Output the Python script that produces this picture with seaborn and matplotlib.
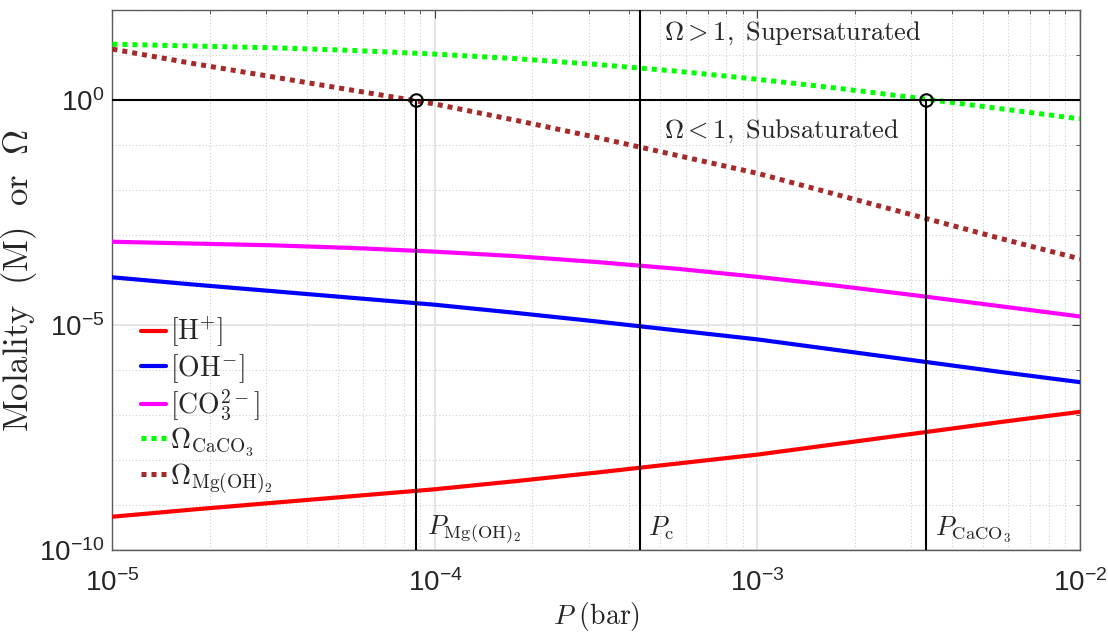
import numpy as np
import pandas as pd
import matplotlib
matplotlib.use("Agg")
import matplotlib.pyplot as plt
import matplotlib.ticker as mticker
import matplotlib.transforms as mtransforms
import seaborn as sns

# Partial pressure of CO2 (bar), quarter-decade steps
pressure = [1.0e-5, 1.778e-5, 3.162e-5, 5.623e-5, 1.0e-4, 1.778e-4, 3.162e-4,
            5.623e-4, 1.0e-3, 1.778e-3, 3.162e-3, 5.623e-3, 1.0e-2]

# log10 of molalities and saturation states
log_h = [-9.26, -9.10, -8.95, -8.80, -8.65, -8.47, -8.28, -8.08, -7.88, -7.64, -7.40, -7.16, -6.93]
log_oh = [-3.94, -4.10, -4.25, -4.40, -4.55, -4.73, -4.92, -5.12, -5.32, -5.56, -5.80, -6.04, -6.27]
log_co3 = [-3.15, -3.19, -3.23, -3.29, -3.37, -3.47, -3.60, -3.75, -3.93, -4.13, -4.35, -4.58, -4.81]
log_omega_caco3 = [1.24, 1.20, 1.16, 1.10, 1.02, 0.92, 0.79, 0.64, 0.46, 0.26, 0.04, -0.19, -0.42]
log_omega_mgoh2 = [1.13, 0.81, 0.51, 0.21, -0.09, -0.45, -0.83, -1.23, -1.63, -2.11, -2.59, -3.07, -3.53]

# Threshold pressures
p_mgoh2 = 8.73e-5
p_c = 4.31e-4
p_caco3 = 3.33e-3

series_labels = [r"$[\mathrm{H}^{+}]$", r"$[\mathrm{OH}^{-}]$", r"$[\mathrm{CO}_3^{2-}]$",
                 r"$\Omega_{\mathrm{CaCO}_3}$", r"$\Omega_{\mathrm{Mg(OH)}_2}$"]

sns.set_style("white")
plt.rcParams.update({
    "mathtext.fontset": "custom",
    "mathtext.rm": "Liberation Sans",
    "mathtext.it": "Liberation Sans:italic",
    "mathtext.bf": "Liberation Sans:bold",
    "mathtext.sf": "Liberation Sans",
    "axes.unicode_minus": False,
})
plt.rcParams["font.family"] = ["Liberation Sans", "DejaVu Sans"]

df = pd.DataFrame({
    "P": pressure,
    "H": np.power(10.0, log_h),
    "OH": np.power(10.0, log_oh),
    "CO3": np.power(10.0, log_co3),
    "OmegaCaCO3": np.power(10.0, log_omega_caco3),
    "OmegaMgOH2": np.power(10.0, log_omega_mgoh2),
})

fig = plt.figure(figsize=(11.08, 6.36), dpi=100)
ax = fig.add_axes([0.1015, 0.1352, 0.8732, 0.8491])
ax.set_xscale("log")
ax.set_yscale("log")

styles = [
    ("H", "#ff0000", "-"),
    ("OH", "#0000ff", "-"),
    ("CO3", "#ff00ff", "-"),
    ("OmegaCaCO3", "#00ff00", (0, (1, 1))),
    ("OmegaMgOH2", "#a52a2a", (0, (1, 1))),
]
handles = []
for (col, color, ls), lab in zip(styles, series_labels):
    lw = 3.0 if ls == "-" else 3.6
    sns.lineplot(data=df, x="P", y=col, ax=ax, color=color, linewidth=lw,
                 linestyle=ls, label=lab, legend=False, zorder=3)
    handles.append(ax.lines[-1])

# Reference lines
ax.axhline(1.0, color="black", lw=1.5, zorder=4)
ax.plot([p_c, p_c], [1e-10, 1e2], color="black", lw=1.5, zorder=4)
ax.plot([p_mgoh2, p_mgoh2], [1e-10, 1.0], color="black", lw=1.5, zorder=4)
ax.plot([p_caco3, p_caco3], [1e-10, 1.0], color="black", lw=1.5, zorder=4)
ax.plot([p_mgoh2, p_caco3], [1.0, 1.0], linestyle="none", marker="o", ms=9,
        mfc="none", mec="black", mew=1.5, zorder=5)

ax.set_xlim(1e-5, 1e-2)
ax.set_ylim(1e-10, 1e2)

# Ticks
ax.xaxis.set_major_locator(mticker.FixedLocator([1e-5, 1e-4, 1e-3, 1e-2]))
ax.xaxis.set_minor_locator(mticker.LogLocator(base=10, subs=np.arange(2, 10), numticks=20))
ax.xaxis.set_minor_formatter(mticker.NullFormatter())
ax.yaxis.set_major_locator(mticker.FixedLocator([1e-10, 1e-5, 1e0]))
ax.yaxis.set_minor_locator(mticker.FixedLocator([10.0 ** k for k in range(-10, 3) if k not in (-10, -5, 0)]))
ax.yaxis.set_minor_formatter(mticker.NullFormatter())
ax.xaxis.set_major_formatter(mticker.LogFormatterSciNotation())
ax.yaxis.set_major_formatter(mticker.LogFormatterSciNotation())

ax.tick_params(which="both", direction="in", top=True, right=True, colors="#404040",
               labelcolor="#262626", labelsize=20)
ax.tick_params(which="major", length=6, width=0.8)
ax.tick_params(which="minor", length=3, width=0.6)
ax.tick_params(axis="x", which="major", pad=14)
ax.tick_params(axis="y", which="major", pad=6)

ax.grid(which="major", color="#e3e3e3", lw=1.3, ls="-", zorder=0)
ax.grid(which="minor", color="#cfcfcf", lw=0.8, ls=(0, (1, 2)), zorder=0)
ax.set_axisbelow(True)
for sp in ax.spines.values():
    sp.set_color("#5a5a5a")
    sp.set_linewidth(1.0)

ax.set_xlabel(r"$P\ \mathrm{(bar)}$", fontsize=20, math_fontfamily="cm", labelpad=2)
ax.set_ylabel(r"$\mathrm{Molality\ \ (M)\ \ or\ \ }\Omega$", fontsize=25, math_fontfamily="cm")
ax.yaxis.set_label_coords(-0.076, 0.5)

# Region annotations
def xshift(px):
    return mtransforms.offset_copy(ax.transData, fig=fig, x=px, y=0, units="dots")

ax.text(p_c, 21.5, r"$\Omega > 1,\ \mathrm{Supersaturated}$", transform=xshift(24),
        fontsize=19, math_fontfamily="cm", va="baseline", ha="left")
ax.text(p_c, 0.148, r"$\Omega < 1,\ \mathrm{Subsaturated}$", transform=xshift(24),
        fontsize=19, math_fontfamily="cm", va="baseline", ha="left")

y_lab = 10 ** -9.667
ax.text(p_mgoh2, y_lab, r"$P_{\mathrm{Mg(OH)}_2}$", transform=xshift(11), fontsize=19,
        math_fontfamily="cm", va="baseline", ha="left")
ax.text(p_c, y_lab, r"$P_{\mathrm{c}}$", transform=xshift(8), fontsize=19,
        math_fontfamily="cm", va="baseline", ha="left")
ax.text(p_caco3, y_lab, r"$P_{\mathrm{CaCO}_3}$", transform=xshift(9), fontsize=19,
        math_fontfamily="cm", va="baseline", ha="left")

leg = ax.legend(handles=handles, labels=series_labels, loc="upper left",
                bbox_to_anchor=(0.018, 0.455), frameon=False, fontsize=20,
                handlelength=0.9, handletextpad=0.15, labelspacing=0.1,
                borderaxespad=0.0)
for t in leg.get_texts():
    t.set_math_fontfamily("cm")

fig.savefig("out.png", dpi=100)
